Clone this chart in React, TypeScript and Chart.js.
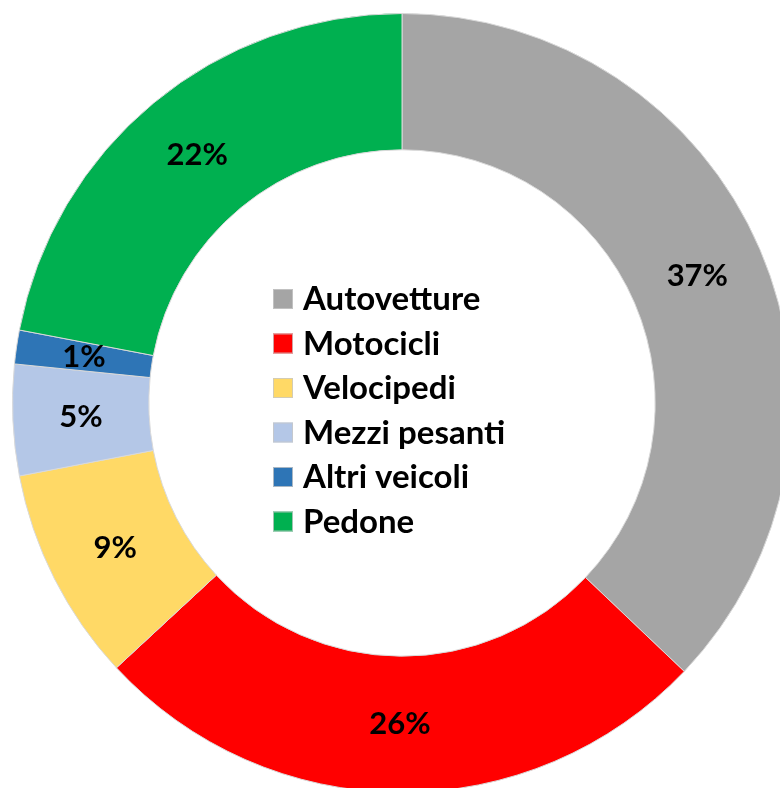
import React, { useEffect, useRef } from "react";
import { Chart, registerables } from "chart.js";

Chart.register(...registerables);

const categories = ["Autovetture", "Motocicli", "Velocipedi", "Mezzi pesanti", "Altri veicoli", "Pedone"];
const shares = [37.1, 26.0, 8.9, 4.6, 1.4, 22.0];
const colors = ["#A5A5A5", "#FF0000", "#FFD966", "#B4C7E7", "#2E75B6", "#00B050"];

const FONT = "Lato, 'Open Sans', sans-serif";

const centerLegend = {
  id: "centerLegend",
  afterDraw(chart: any) {
    const ctx = chart.ctx;
    const meta = chart.getDatasetMeta(0);
    const arc0 = meta.data[0];
    const cx = arc0.x;
    const cy = arc0.y;
    const total = shares.reduce((a, b) => a + b, 0);
    ctx.save();
    // percentage labels
    ctx.font = `bold 31px ${FONT}`;
    ctx.fillStyle = "#000";
    ctx.textAlign = "center";
    ctx.textBaseline = "middle";
    meta.data.forEach((arc: any, i: number) => {
      const p = arc.tooltipPosition();
      const pct = Math.round((shares[i] / total) * 100);
      ctx.fillText(pct + "%", p.x, p.y);
    });
    // legend
    ctx.font = `bold 33px ${FONT}`;
    ctx.textAlign = "left";
    const rowH = 44.5;
    const firstY = cy - 104.5;
    const boxX = cx - 129;
    categories.forEach((c, i) => {
      const y = firstY + i * rowH;
      ctx.fillStyle = colors[i];
      ctx.fillRect(boxX, y - 9.5, 20, 20);
      ctx.strokeStyle = "rgba(200,200,200,0.8)";
      ctx.lineWidth = 1;
      ctx.strokeRect(boxX + 0.5, y - 9, 19, 19);
      ctx.fillStyle = "#000";
      ctx.fillText(c, boxX + 30, y + 1);
    });
    ctx.restore();
  },
};

export default function App() {
  const ref = useRef<HTMLCanvasElement | null>(null);
  useEffect(() => {
    document.body.style.margin = "0";
    document.body.style.overflow = "hidden";
    const chart = new Chart(ref.current!, {
      type: "doughnut",
      data: {
        labels: categories,
        datasets: [
          {
            data: shares,
            backgroundColor: colors,
            borderColor: "#D9D9D9",
            borderWidth: 1,
          },
        ],
      },
      options: {
        responsive: false,
        animation: false,
        cutout: "65%",
        plugins: { legend: { display: false }, tooltip: { enabled: false } },
        layout: { padding: 0 },
      },
      plugins: [centerLegend],
    });
    return () => chart.destroy();
  }, []);
  return (
    <div style={{ position: "fixed", left: 0, top: 0, width: 780, height: 788, overflow: "hidden", background: "#fff" }}>
      <canvas ref={ref} width={780} height={780} style={{ position: "absolute", left: 12, top: 13, width: 780, height: 780 }} />
    </div>
  );
}
